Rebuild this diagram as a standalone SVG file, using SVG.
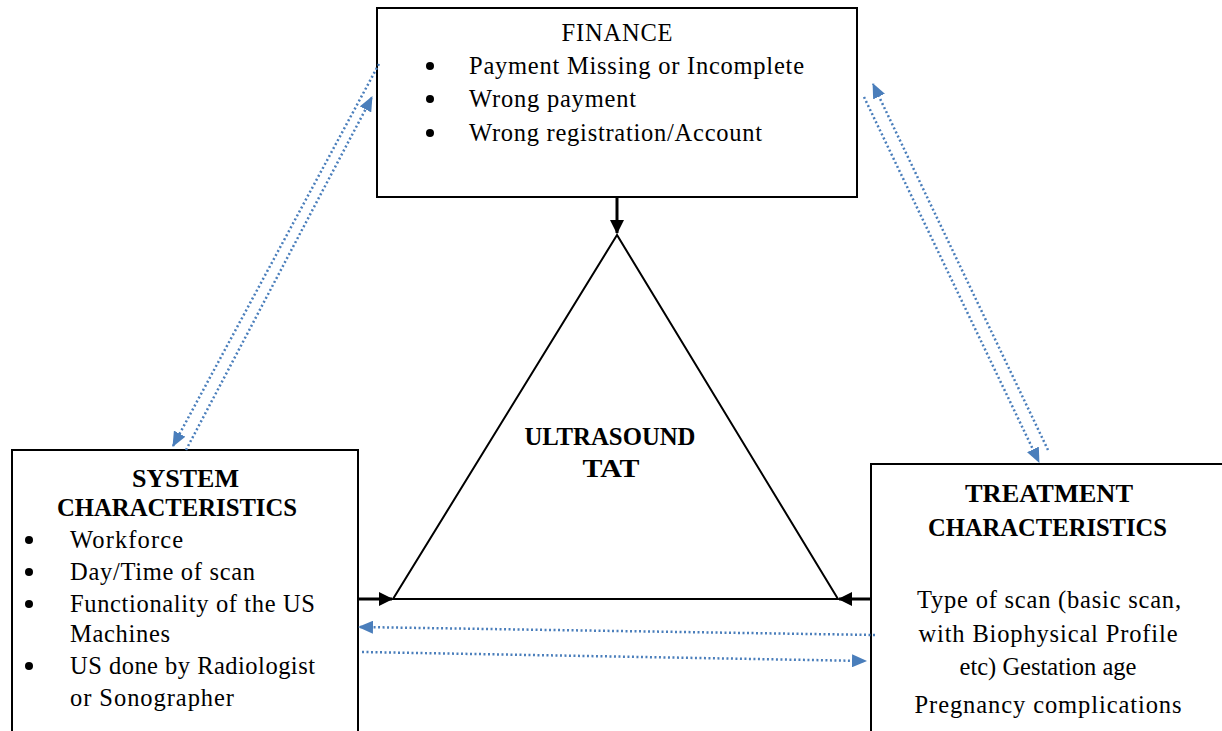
<svg xmlns="http://www.w3.org/2000/svg" width="1222" height="731" viewBox="0 0 1222 731">
<defs>
<style>
.box{fill:#fff;stroke:#000;stroke-width:2}
.t{font-family:"Liberation Serif","Times New Roman",serif;font-size:24.5px;fill:#000}
.b{font-weight:bold;font-size:25px}
.m{text-anchor:middle}
.dot{stroke:#4a7ebb;stroke-width:2.5;stroke-dasharray:2 2.5;fill:none}
.blk{stroke:#000;stroke-width:3;fill:none}
</style>
<marker id="ba" markerWidth="15" markerHeight="13" refX="14" refY="6.5" orient="auto" markerUnits="userSpaceOnUse" viewBox="0 0 15 13"><path d="M0,0 L15,6.5 L0,13 Z" fill="#4a7ebb"/></marker>
<marker id="ka" markerWidth="14" markerHeight="14" refX="13" refY="7" orient="auto" markerUnits="userSpaceOnUse" viewBox="0 0 14 14"><path d="M0,0 L14,7 L0,14 Z" fill="#000"/></marker>
</defs>
<g id="finance">
<rect class="box" x="377" y="8" width="480" height="189"/>
<text class="t m" x="617" y="41" textLength="111" lengthAdjust="spacing">FINANCE</text>
<circle cx="430" cy="66" r="4"/><text class="t" x="469" y="74" textLength="335" lengthAdjust="spacing">Payment Missing or Incomplete</text>
<circle cx="430" cy="99" r="4"/><text class="t" x="469" y="107" textLength="167" lengthAdjust="spacing">Wrong payment</text>
<circle cx="430" cy="133" r="4"/><text class="t" x="469" y="141" textLength="293" lengthAdjust="spacing">Wrong  registration/Account</text>
</g>
<g id="tat">
<polygon points="617,235 393,599 838,599" fill="#fff" stroke="#000" stroke-width="2"/>
<text class="t b m" x="610" y="445" textLength="171" lengthAdjust="spacingAndGlyphs">ULTRASOUND</text>
<text class="t b m" x="611" y="477" textLength="57" lengthAdjust="spacingAndGlyphs">TAT</text>
</g>
<g id="system">
<rect class="box" x="12" y="450" width="346" height="290"/>
<text class="t b m" x="185.5" y="487" textLength="107" lengthAdjust="spacingAndGlyphs">SYSTEM</text>
<text class="t b m" x="177" y="516" textLength="240" lengthAdjust="spacingAndGlyphs">CHARACTERISTICS</text>
<circle cx="29" cy="540" r="4"/><text class="t" x="70" y="548" textLength="113" lengthAdjust="spacing">Workforce</text>
<circle cx="29" cy="572" r="4"/><text class="t" x="70" y="580" textLength="185" lengthAdjust="spacing">Day/Time of scan</text>
<circle cx="29" cy="604" r="4"/><text class="t" x="70" y="612" textLength="245" lengthAdjust="spacing">Functionality of the US</text>
<text class="t" x="70" y="642" textLength="100" lengthAdjust="spacing">Machines</text>
<circle cx="29" cy="666" r="4"/><text class="t" x="70" y="674" textLength="245" lengthAdjust="spacing">US done by Radiologist</text>
<text class="t" x="70" y="706" textLength="164" lengthAdjust="spacing">or Sonographer</text>
</g>
<g id="treatment">
<rect class="box" x="871" y="464" width="360" height="280"/>
<text class="t b m" x="1049" y="502" textLength="168" lengthAdjust="spacingAndGlyphs">TREATMENT</text>
<text class="t b m" x="1047.5" y="536" textLength="239" lengthAdjust="spacingAndGlyphs">CHARACTERISTICS</text>
<text class="t m" x="1049" y="608" textLength="264" lengthAdjust="spacing">Type of scan (basic scan,</text>
<text class="t m" x="1048" y="642" textLength="259" lengthAdjust="spacing">with Biophysical Profile</text>
<text class="t m" x="1048" y="675">etc) Gestation age</text>
<text class="t m" x="1048" y="713" textLength="267" lengthAdjust="spacing">Pregnancy complications</text>
</g>
<g id="connectors">
<line class="blk" x1="617" y1="197" x2="617" y2="233" marker-end="url(#ka)"/>
<line class="blk" x1="358" y1="599" x2="392" y2="599" marker-end="url(#ka)"/>
<line class="blk" x1="871" y1="599" x2="839" y2="599" marker-end="url(#ka)"/>
<line class="dot" x1="379" y1="64" x2="173" y2="446" marker-end="url(#ba)"/>
<line class="dot" x1="186" y1="450" x2="372" y2="97" marker-end="url(#ba)"/>
<line class="dot" x1="1048" y1="450" x2="873" y2="84" marker-end="url(#ba)"/>
<line class="dot" x1="864" y1="97" x2="1039" y2="462" marker-end="url(#ba)"/>
<line class="dot" x1="875" y1="635" x2="359" y2="627" marker-end="url(#ba)"/>
<line class="dot" x1="362" y1="652" x2="866" y2="661" marker-end="url(#ba)"/>
</g>
</svg>
